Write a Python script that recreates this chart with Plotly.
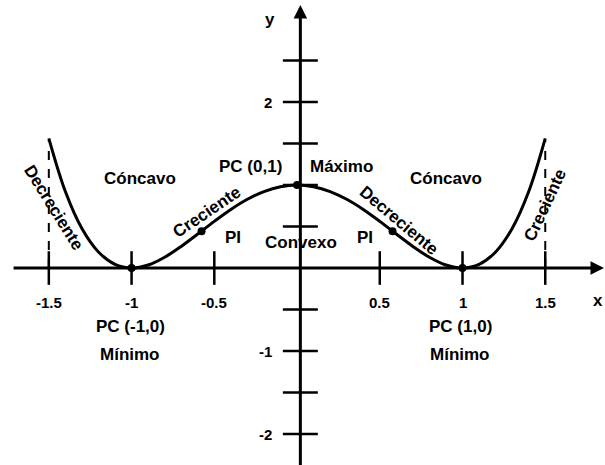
import plotly.graph_objects as go

# ---- data ----
curve_x = [-1.5, -1.4, -1.3, -1.2, -1.1, -1.0, -0.9, -0.8, -0.7, -0.6, -0.5, -0.4, -0.3, -0.2, -0.1,
           0.0, 0.1, 0.2, 0.3, 0.4, 0.5, 0.6, 0.7, 0.8, 0.9, 1.0, 1.1, 1.2, 1.3, 1.4, 1.5]
curve_y = [1.5625, 0.9216, 0.4761, 0.1936, 0.0441, 0.0, 0.0361, 0.1296, 0.2601, 0.4096, 0.5625,
           0.7056, 0.8281, 0.9216, 0.9801, 1.0, 0.9801, 0.9216, 0.8281, 0.7056, 0.5625, 0.4096,
           0.2601, 0.1296, 0.0361, 0.0, 0.0441, 0.1936, 0.4761, 0.9216, 1.5625]
pc_x = [-1.0, 0.0, 1.0]
pc_y = [0.0, 1.0, 0.0]
pi_x = [-0.577, 0.577]
pi_y = [0.444, 0.444]
dash_x = [-1.5, 1.5]
dash_top = [1.54, 1.54]
xtick_vals = [-1.5, -1.0, -0.5, 0.5, 1.0, 1.5]
xtick_text = ["-1.5", "-1", "-0.5", "0.5", "1", "1.5"]
ytick_vals = [2.5, 2.0, 1.5, 1.0, 0.5, -0.5, -1.0, -1.5, -2.0]
ylabel_vals = [2.0, -1.0, -2.0]
ylabel_text = ["2", "-1", "-2"]

FONT = "Liberation Sans"
fig = go.Figure()

# dashed verticals
for xv, yt in zip(dash_x, dash_top):
    fig.add_trace(go.Scatter(x=[xv, xv], y=[0, yt], mode="lines",
                             line=dict(color="black", width=2, dash="dash"),
                             hoverinfo="skip", showlegend=False))

# axis ticks
fig.add_trace(go.Scatter(x=xtick_vals, y=[0] * len(xtick_vals), mode="markers",
                         marker=dict(symbol="line-ns", size=24, line=dict(color="black", width=2.5)),
                         hoverinfo="skip", showlegend=False))
fig.add_trace(go.Scatter(x=[0.02] * len(ytick_vals), y=ytick_vals, mode="markers",
                         marker=dict(symbol="line-ew", size=25, line=dict(color="black", width=2.5)),
                         hoverinfo="skip", showlegend=False))

# curve
fig.add_trace(go.Scatter(x=curve_x, y=curve_y, mode="lines",
                         line=dict(color="black", width=3, shape="spline"),
                         hoverinfo="skip", showlegend=False))
# points
fig.add_trace(go.Scatter(x=pc_x + pi_x, y=pc_y + pi_y, mode="markers",
                         marker=dict(color="black", size=8),
                         hoverinfo="skip", showlegend=False))

ann = []
# axes with arrows
ann.append(dict(x=1.855, y=0, ax=-1.722, ay=0, xref="x", yref="y", axref="x", ayref="y",
                showarrow=True, arrowhead=2, arrowsize=0.9, arrowwidth=3, arrowcolor="black", text=""))
ann.append(dict(x=0.02, y=3.17, ax=0.02, ay=-2.4, xref="x", yref="y", axref="x", ayref="y",
                showarrow=True, arrowhead=2, arrowsize=0.9, arrowwidth=3, arrowcolor="black", text=""))

def txt(x, y, s, size=17, angle=0, xanchor="center"):
    ann.append(dict(x=x, y=y, text="<b>%s</b>" % s, showarrow=False, xref="x", yref="y",
                    xanchor=xanchor, yanchor="middle", textangle=angle,
                    font=dict(family=FONT, size=size, color="black")))

for v, t in zip(xtick_vals, xtick_text):
    txt(v, -0.42, t, size=15)
for v, t in zip(ylabel_vals, ylabel_text):
    txt(-0.14, v, t, size=15, xanchor="right")

txt(-0.165, 2.99, "y", size=17)
txt(1.861, -0.39, "x", size=17, xanchor="right")

txt(-0.949, 1.084, "Cóncavo")
txt(0.900, 1.084, "Cóncavo")
txt(-0.284, 1.229, "PC (0,1)")
txt(0.27, 1.229, "Máximo")
txt(-0.385, 0.37, "PI")
txt(0.025, 0.313, "Convexo")
txt(0.41, 0.37, "PI")
txt(-1.009, -0.699, "PC (-1,0)")
txt(-1.009, -1.036, "Mínimo")
txt(0.985, -0.699, "PC (1,0)")
txt(0.985, -1.036, "Mínimo")
txt(-0.550, 0.675, "Creciente", angle=-34)
txt(0.616, 0.578, "Decreciente", angle=40)
txt(-1.470, 0.735, "Decreciente", angle=58)
txt(1.496, 0.759, "Creciente", angle=-65)

fig.update_layout(
    width=605, height=465,
    margin=dict(l=0, r=0, t=0, b=0),
    paper_bgcolor="white", plot_bgcolor="white",
    xaxis=dict(range=[-1.795, 1.861], visible=False, fixedrange=True),
    yaxis=dict(range=[-2.373, 3.229], visible=False, fixedrange=True),
    annotations=ann,
    showlegend=False,
)
fig.write_html("out.html", config={"displayModeBar": False},
               post_script="document.body.style.margin='0';")
